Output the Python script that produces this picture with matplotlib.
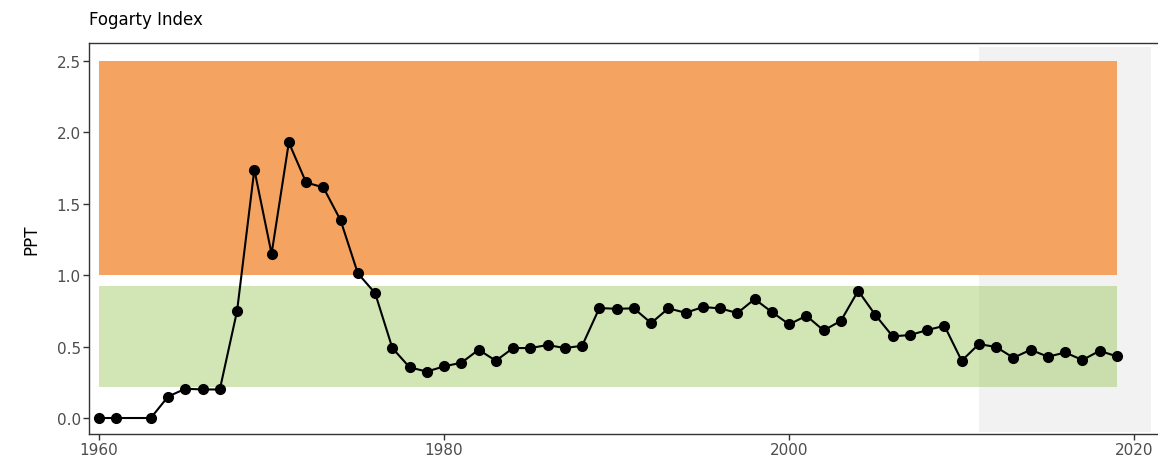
import numpy as np
import matplotlib
matplotlib.use('Agg')
from matplotlib import pyplot as plt

# Fogarty index by year (1962 missing)
years = [1960, 1961, 1963, 1964, 1965, 1966, 1967, 1968, 1969, 1970,
         1971, 1972, 1973, 1974, 1975, 1976, 1977, 1978, 1979, 1980,
         1981, 1982, 1983, 1984, 1985, 1986, 1987, 1988, 1989, 1990,
         1991, 1992, 1993, 1994, 1995, 1996, 1997, 1998, 1999, 2000,
         2001, 2002, 2003, 2004, 2005, 2006, 2007, 2008, 2009, 2010,
         2011, 2012, 2013, 2014, 2015, 2016, 2017, 2018, 2019]
ppt = [0.00, 0.00, 0.00, 0.15, 0.205, 0.20, 0.20, 0.75, 1.74, 1.15,
       1.93, 1.65, 1.615, 1.385, 1.013, 0.875, 0.49, 0.355, 0.325, 0.362,
       0.387, 0.478, 0.401, 0.49, 0.49, 0.511, 0.49, 0.506, 0.77, 0.765,
       0.768, 0.665, 0.768, 0.737, 0.777, 0.768, 0.735, 0.833, 0.742, 0.656,
       0.716, 0.613, 0.681, 0.891, 0.721, 0.572, 0.581, 0.616, 0.646, 0.401,
       0.518, 0.497, 0.422, 0.478, 0.429, 0.459, 0.406, 0.471, 0.431]

# reference bands (low, high) and recent-years shading
band_years = (1960, 2019)
high_band = (1.0, 2.5)
low_band = (0.217, 0.924)
recent_years = (2011, 2021)
recent_y = (-0.1, 2.6)

fig = plt.figure(figsize=(11.58, 4.64), dpi=100)
# right edge of the panel runs just past the picture, as in the original
ax = fig.add_axes([0.0769, 0.0625, 0.9249, 0.8425])

ax.fill_between(recent_years, recent_y[0], recent_y[1], color='#F2F2F2', lw=0, zorder=1)
ax.fill_between(band_years, high_band[0], high_band[1], color='sandybrown', lw=0, zorder=2)
ax.fill_between(band_years, low_band[0], low_band[1], color=(140/255, 190/255, 70/255),
                alpha=0.4, lw=0, zorder=2)

ax.plot(years, ppt, color='black', lw=1.5, marker='o', markersize=7, zorder=3)

ax.set_xlim(1959.42, 2021.5)
ax.set_ylim(-0.112, 2.626)
ax.set_xticks([1960, 1980, 2000, 2020])
ax.set_yticks([0.0, 0.5, 1.0, 1.5, 2.0, 2.5])
ax.set_yticklabels(['0.0', '0.5', '1.0', '1.5', '2.0', '2.5'])
ax.tick_params(direction='out', length=4, width=1, color='#333333',
               labelcolor='#4D4D4D', labelsize=11, pad=2)
for s in ax.spines.values():
    s.set_color('#333333')
    s.set_linewidth(1.0)
ax.spines['right'].set_visible(False)

ax.set_ylabel('PPT', fontsize=12, color='black', labelpad=12)
ax.set_title('Fogarty Index', loc='left', fontsize=12, pad=14)

fig.savefig('out.png', dpi=100)
